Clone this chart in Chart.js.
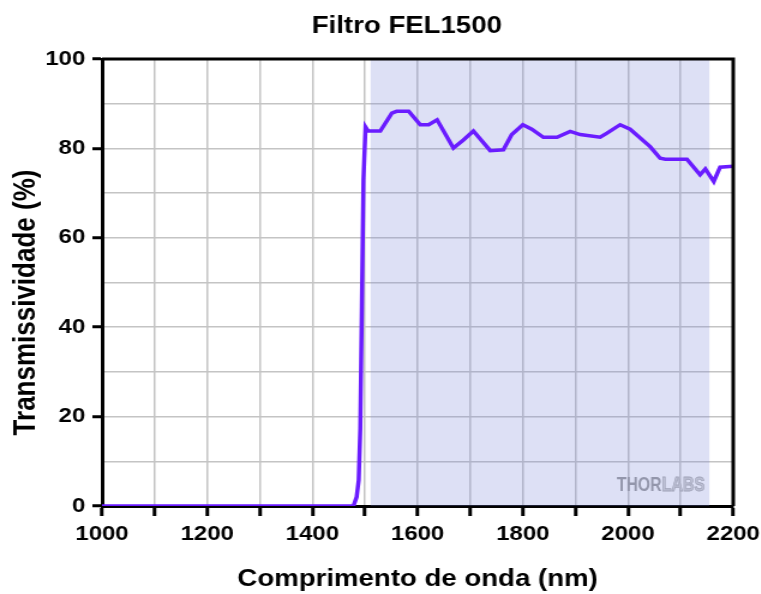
<!DOCTYPE html>
<html>
<head>
<meta charset="utf-8">
<script src="https://cdn.jsdelivr.net/npm/chart.js@4.4.1/dist/chart.umd.min.js"></script>
<style>
  html, body { margin: 0; padding: 0; background: #fff; overflow: hidden; }
  #wrap { width: 634px; height: 594px; transform: scaleX(1.2); transform-origin: 0 0; }
</style>
</head>
<body>
<div id="wrap"><canvas id="c" width="634" height="594"></canvas></div>
<script>
// Transmission curve of the FEL1500 long-pass filter
const wavelengthNm = [1000, 1478, 1484, 1488, 1491, 1494, 1497, 1501, 1506, 1529, 1551, 1560, 1583,
  1605, 1621, 1637, 1668, 1687, 1706, 1738, 1763, 1779, 1800, 1817, 1839, 1865, 1890, 1909,
  1947, 1960, 1985, 2004, 2042, 2061, 2071, 2112, 2137, 2147, 2163, 2175, 2200];
const transmissionPct = [0, 0, 2, 5.8, 17.4, 44.6, 73, 84.8, 83.9, 83.9, 87.9, 88.3, 88.3,
  85.3, 85.3, 86.4, 80.1, 81.9, 83.9, 79.5, 79.7, 83.1, 85.3, 84.3, 82.5, 82.5, 83.8, 83.1,
  82.5, 83.4, 85.3, 84.3, 80.4, 77.8, 77.6, 77.6, 74.1, 75.4, 72.6, 75.8, 76.0];

// Highlighted operating band (nm)
const bandNm = [1510, 2155];
const bandTop = [100, 100];

// Labelled ticks
const xTickLabels = [1000, 1200, 1400, 1600, 1800, 2000, 2200];
const yTickLabels = [0, 20, 40, 60, 80, 100];

const FONT = "'Liberation Sans', Arial, Helvetica, sans-serif";

const frameAndMarks = {
  id: 'frameAndMarks',
  beforeDatasetsDraw(chart) {
    const { ctx, chartArea: a } = chart;
    // THORLABS watermark
    ctx.save();
    ctx.translate(a.right - 97, a.bottom - 15);
    ctx.scale(0.66, 1);
    ctx.font = "bold 20px " + FONT;
    ctx.textBaseline = 'alphabetic';
    ctx.fillStyle = '#9c9c9c';
    ctx.fillText('THOR', 0, 0);
    const w = ctx.measureText('THOR').width;
    ctx.fillStyle = '#d4d4d4';
    ctx.strokeStyle = '#b0b0b0';
    ctx.lineWidth = 0.9;
    ctx.fillText('LABS', w, 0);
    ctx.strokeText('LABS', w, 0);
    ctx.restore();
  },
  afterDraw(chart) {
    const { ctx, chartArea: a } = chart;
    // plot frame (top and right edges)
    ctx.save();
    ctx.strokeStyle = '#000';
    ctx.lineWidth = 3;
    ctx.beginPath();
    ctx.moveTo(a.left, a.top);
    ctx.lineTo(a.right, a.top);
    ctx.lineTo(a.right, a.bottom);
    ctx.stroke();
    ctx.fillStyle = '#000';
    // chart title
    ctx.font = "bold 23px " + FONT;
    ctx.textAlign = 'center';
    ctx.textBaseline = 'alphabetic';
    ctx.fillText('Filtro FEL1500', (a.left + a.right) / 2 - 9, 33);
    // y axis title
    ctx.translate(22, (a.top + a.bottom) / 2 + 20);
    ctx.rotate(-Math.PI / 2);
    ctx.font = "bold 26px " + FONT;
    ctx.textBaseline = 'middle';
    ctx.fillText('Transmissividade (%)', 0, 0);
    ctx.restore();
  }
};

new Chart(document.getElementById('c'), {
  type: 'line',
  data: {
    datasets: [
      {
        label: 'Transmissividade',
        data: wavelengthNm.map((x, i) => ({ x, y: transmissionPct[i] })),
        borderColor: '#6a1cff',
        borderWidth: 3.5,
        pointRadius: 0,
        tension: 0,
        fill: false,
        order: 0
      },
      {
        label: 'Banda',
        data: bandNm.map((x, i) => ({ x, y: bandTop[i] })),
        borderWidth: 0,
        borderColor: 'rgba(0,0,0,0)',
        backgroundColor: 'rgba(119,131,215,0.25)',
        pointRadius: 0,
        fill: 'origin',
        order: 1
      }
    ]
  },
  options: {
    responsive: false,
    animation: false,
    devicePixelRatio: 1,
    layout: { padding: { top: 59, right: 23, left: 0, bottom: 0 } },
    plugins: {
      legend: { display: false },
      tooltip: { enabled: false },
      title: { display: false }
    },
    scales: {
      x: {
        type: 'linear',
        min: 1000,
        max: 2200,
        afterFit(scale) {
          scale.height = 88;
          scale.paddingLeft = 0;
          scale.paddingRight = 0;
        },
        ticks: {
          stepSize: 100,
          autoSkip: false,
          maxRotation: 0,
          padding: 6,
          color: '#000',
          font: { family: FONT, size: 20, weight: 'bold' },
          callback: (v) => xTickLabels.includes(v) ? String(v) : ''
        },
        grid: {
          color: '#c4c4c4',
          lineWidth: 1.5,
          tickLength: 10,
          tickColor: '#000',
          tickWidth: 3
        },
        border: { display: true, color: '#000', width: 3 },
        title: {
          display: true,
          text: 'Comprimento de onda (nm)',
          color: '#000',
          font: { family: FONT, size: 23, weight: 'bold' },
          padding: { top: 0, bottom: 1 }
        }
      },
      y: {
        min: 0,
        max: 100,
        afterFit(scale) { scale.width = 85; },
        ticks: {
          stepSize: 10,
          autoSkip: false,
          padding: 6,
          color: '#000',
          font: { family: FONT, size: 20, weight: 'bold' },
          callback: (v) => yTickLabels.includes(v) ? String(v) : ''
        },
        grid: {
          color: '#c4c4c4',
          lineWidth: 1.5,
          tickLength: 8,
          tickWidth: 3,
          tickColor: (ctx) => (ctx.tick && yTickLabels.includes(ctx.tick.value)) ? '#000' : 'rgba(0,0,0,0)'
        },
        border: { display: true, color: '#000', width: 3 }
      }
    }
  },
  plugins: [frameAndMarks]
});
</script>
</body>
</html>
